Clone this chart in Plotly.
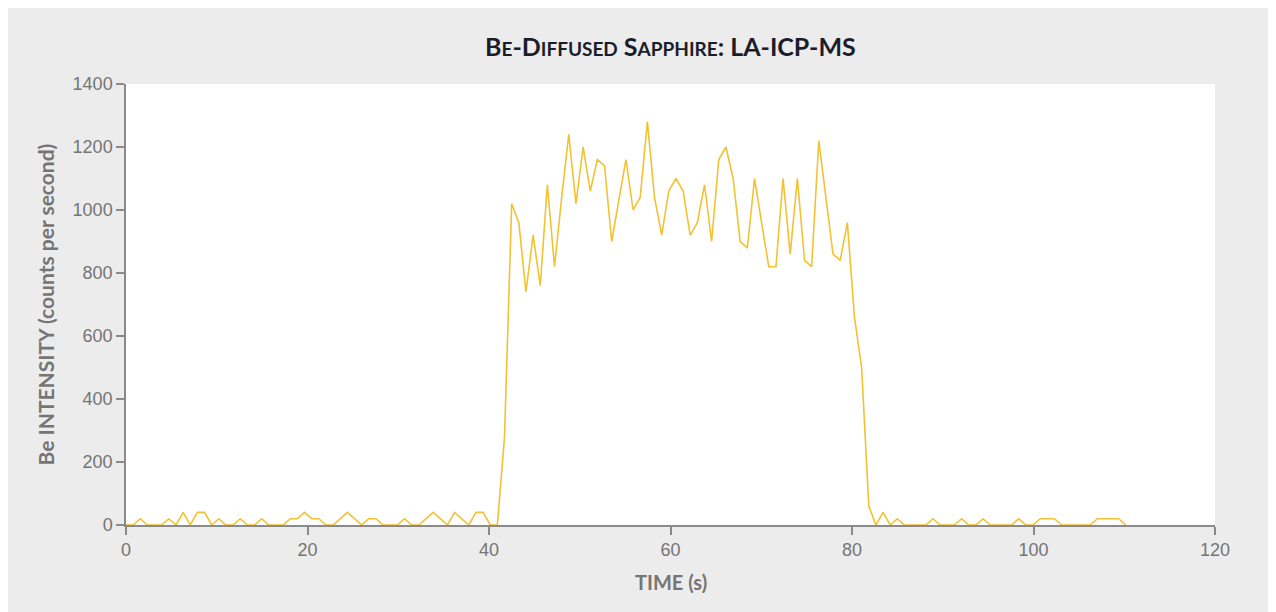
import plotly.graph_objects as go

# Time (s) of each sample
time_s = [0, 0.79, 1.57, 2.36, 3.15, 3.94, 4.72, 5.51, 6.30, 7.08,
          7.87, 8.66, 9.44, 10.23, 11.02, 11.81, 12.59, 13.38, 14.17, 14.95,
          15.74, 16.53, 17.31, 18.10, 18.89, 19.68, 20.46, 21.25, 22.04, 22.82,
          23.61, 24.40, 25.18, 25.97, 26.76, 27.55, 28.33, 29.12, 29.91, 30.69,
          31.48, 32.27, 33.05, 33.84, 34.63, 35.42, 36.20, 36.99, 37.78, 38.56,
          39.35, 40.14, 40.92, 41.71, 42.50, 43.29, 44.07, 44.86, 45.65, 46.43,
          47.22, 48.01, 48.79, 49.58, 50.37, 51.16, 51.94, 52.73, 53.52, 54.30,
          55.09, 55.88, 56.66, 57.45, 58.24, 59.03, 59.81, 60.60, 61.39, 62.17,
          62.96, 63.75, 64.53, 65.32, 66.11, 66.90, 67.68, 68.47, 69.26, 70.04,
          70.83, 71.62, 72.40, 73.19, 73.98, 74.77, 75.55, 76.34, 77.13, 77.91,
          78.70, 79.49, 80.27, 81.06, 81.85, 82.64, 83.42, 84.21, 85.00, 85.78,
          86.57, 87.36, 88.14, 88.93, 89.72, 90.51, 91.29, 92.08, 92.87, 93.65,
          94.44, 95.23, 96.01, 96.80, 97.59, 98.38, 99.16, 99.95, 100.74, 101.52,
          102.31, 103.10, 103.88, 104.67, 105.46, 106.25, 107.03, 107.82, 108.61, 109.39,
          110.18]

# Be intensity (counts per second)
be_cps = [0, 0, 20, 0, 0, 0, 20, 0, 40, 0,
          40, 40, 0, 20, 0, 0, 20, 0, 0, 20,
          0, 0, 0, 20, 20, 40, 20, 20, 0, 0,
          20, 40, 20, 0, 20, 20, 0, 0, 0, 20,
          0, 0, 20, 40, 20, 0, 40, 20, 0, 40,
          40, 0, 0, 280, 1020, 960, 740, 920, 760, 1080,
          820, 1040, 1240, 1020, 1200, 1060, 1160, 1140, 900, 1030,
          1160, 1000, 1040, 1280, 1040, 920, 1060, 1100, 1060, 920,
          960, 1080, 900, 1160, 1200, 1100, 900, 880, 1100, 960,
          820, 820, 1100, 860, 1100, 840, 820, 1220, 1040, 860,
          840, 960, 660, 500, 60, 0, 40, 0, 20, 0,
          0, 0, 0, 20, 0, 0, 0, 20, 0, 0,
          20, 0, 0, 0, 0, 20, 0, 0, 20, 20,
          20, 0, 0, 0, 0, 0, 20, 20, 20, 20,
          0]

x_ticks = [0, 20, 40, 60, 80, 100, 120]
y_ticks = [0, 200, 400, 600, 800, 1000, 1200, 1400]

LINE = "#f3c233"
AXIS = "#8a8a8a"
TEXT = "#757575"
sc = "<span style='font-size:19px'>"
title_html = ("B" + sc + "E</span>-D" + sc + "IFFUSED</span> S" + sc +
              "APPHIRE</span>: LA-ICP-MS")

fig = go.Figure()
fig.add_trace(go.Scatter(x=time_s, y=be_cps, mode="lines",
                         line=dict(color=LINE, width=1.6),
                         hoverinfo="x+y", showlegend=False))

axis_common = dict(showgrid=False, zeroline=False, showline=True,
                   linecolor=AXIS, linewidth=1.5, ticks="outside",
                   ticklen=8, tickwidth=1.5, tickcolor=AXIS,
                   tickfont=dict(family="Liberation Sans, Arial, sans-serif",
                                 size=18, color=TEXT))

fig.update_layout(
    width=1276, height=612,
    margin=dict(l=118, r=69, t=76, b=95),
    paper_bgcolor="#ececec",
    plot_bgcolor="#ffffff",
    xaxis=dict(range=[0, 120], tickvals=x_ticks, **axis_common),
    yaxis=dict(range=[0, 1400], tickvals=y_ticks, **axis_common),
    annotations=[
        dict(text="<b>" + title_html + "</b>", xref="paper", yref="paper",
             x=0.5, y=(525 - 46) / 441, xanchor="center", yanchor="middle",
             showarrow=False,
             font=dict(family="Lato, Open Sans, sans-serif", size=25,
                       color="#1b1d2a")),
        dict(text="<b>TIME (s)</b>", xref="paper", yref="paper",
             x=0.5, y=(525 - 582) / 441, xanchor="center", yanchor="middle",
             showarrow=False,
             font=dict(family="Lato, Open Sans, sans-serif", size=20,
                       color=TEXT)),
        dict(text="<b>Be INTENSITY (counts per second)</b>", xref="paper",
             yref="paper", x=(45 - 126) / 1089, y=0.5, xanchor="center",
             yanchor="middle", textangle=-90, showarrow=False,
             font=dict(family="Lato, Open Sans, sans-serif", size=21,
                       color=TEXT)),
    ],
)

fig.write_html("out.html")
